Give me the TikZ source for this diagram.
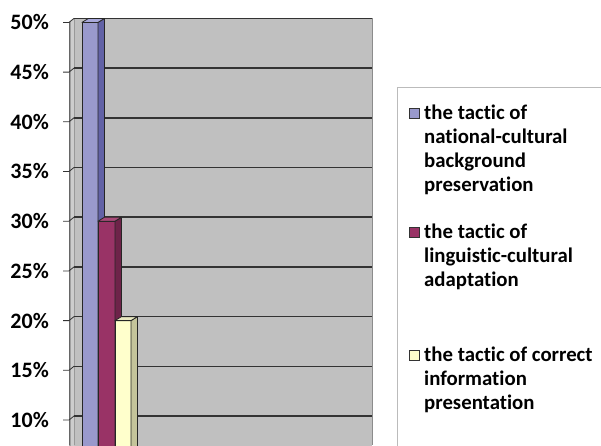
\documentclass[tikz,border=0pt]{standalone}
\usepackage{fontspec}
\setmainfont{Carlito}[Ligatures=CommonOff]
\definecolor{wallc}{HTML}{C0C0C0}
\definecolor{sidewallc}{HTML}{A0A0A0}
\definecolor{gridc}{HTML}{333333}
\definecolor{bluef}{HTML}{9999CC}
\definecolor{blues}{HTML}{6262A6}
\definecolor{bluet}{HTML}{A8A8DA}
\definecolor{redf}{HTML}{993366}
\definecolor{reds}{HTML}{6E2349}
\definecolor{redt}{HTML}{A84A78}
\definecolor{yelf}{HTML}{FFFFCC}
\definecolor{yels}{HTML}{C4C49A}
\definecolor{yelt}{HTML}{E8E8C0}
\definecolor{legc}{HTML}{BBBBBB}
\tikzset{
  gridline/.style={draw=gridc, line width=1.6pt},
  barline/.style={draw=black!85, line width=0.8pt, line join=round},
  ylab/.style={anchor=east, inner sep=0pt, font=\fontsize{22}{26}\selectfont\bfseries},
  legtext/.style={anchor=base west, inner sep=0pt, font=\fontsize{20.8}{24}\selectfont\bfseries},
  legbox/.style={draw=black!80, line width=0.7pt, minimum size=10pt, inner sep=0pt}
}
% bar: x0, width, value, front, side, top
\newcommand{\drawbar}[6]{%
  \pgfmathsetmacro{\yb}{18.4+(50-#3)*9.94}
  \pgfmathsetmacro{\yf}{\yb+4}
  \pgfmathsetmacro{\xa}{#1+#2}
  \pgfmathsetmacro{\xb}{#1+#2+6.5}
  \pgfmathsetmacro{\xc}{#1+6.5}
  \filldraw[barline, fill=#4] (#1,\yf) rectangle (\xa,460);
  \filldraw[barline, fill=#5] (\xa,\yf) -- (\xb,\yb) -- (\xb,460) -- (\xa,460) -- cycle;
  \filldraw[barline, fill=#6] (#1,\yf) -- (\xc,\yb) -- (\xb,\yb) -- (\xa,\yf) -- cycle;
}
\begin{document}
\begin{tikzpicture}[x=1pt,y=-1pt]
\useasboundingbox (0,0) rectangle (601,445);
\fill[white] (0,0) rectangle (601,445);
\begin{scope}
\clip (0,0) rectangle (601,445);
% back wall
\fill[wallc] (74,18.4) rectangle (372,460);
\draw[color=black!45, line width=0.8pt] (372,18.4) -- (372,445);
% side wall
\fill[sidewallc] (69,22.4) -- (74,18.4) -- (74,460) -- (69,460) -- cycle;
\fill[wallc!80!white] (71,20.8) -- (74,18.4) -- (74,460) -- (71,460) -- cycle;
\draw[color=black!60, line width=0.8pt] (69,22.4) -- (69,445);
\draw[color=black!40, line width=0.6pt] (74,18.4) -- (74,445);
% grid lines and ticks
\foreach \v in {10,15,...,50} {
  \pgfmathsetmacro{\yb}{18.4+(50-\v)*9.94}
  \pgfmathsetmacro{\yf}{\yb+4}
  \draw[gridline] (74,\yb) -- (372,\yb);
  \draw[color=gridc, line width=0.8pt] (63,\yf) -- (69,\yf) -- (74,\yb);
  \node[ylab] (lab\v) at (49,\yf) {\v\%};
}
% bars
\drawbar{82}{16}{50}{bluef}{blues}{bluet}
\drawbar{98}{17}{30}{redf}{reds}{redt}
\drawbar{115}{16}{20}{yelf}{yels}{yelt}
% legend
\draw[legc, line width=0.8pt] (397,460) -- (397,87) -- (610,87);
\node[legbox, fill=bluef, anchor=center] (k1) at (414,113) {};
\node[legbox, fill=redf, anchor=center] (k2) at (414,232) {};
\node[legbox, fill=yelf, anchor=center] (k3) at (414,355) {};
\node[legtext] (t1a) at (424,119) {the tactic of};
\node[legtext] (t1b) at (424,143) {national-cultural};
\node[legtext] (t1c) at (424,167) {background};
\node[legtext] (t1d) at (424,191) {preservation};
\node[legtext] (t2a) at (424,238) {the tactic of};
\node[legtext] (t2b) at (424,262) {linguistic-cultural};
\node[legtext] (t2c) at (424,286) {adaptation};
\node[legtext] (t3a) at (424,361) {the tactic of correct};
\node[legtext] (t3b) at (424,385) {information};
\node[legtext] (t3c) at (424,409) {presentation};
\end{scope}
\end{tikzpicture}
\end{document}
